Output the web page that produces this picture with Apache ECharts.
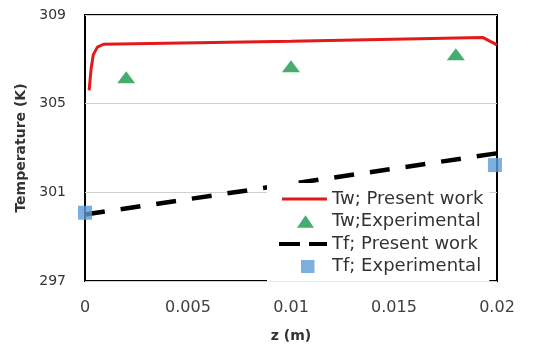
<!DOCTYPE html>
<html>
<head>
<meta charset="utf-8">
<script src="https://cdn.jsdelivr.net/npm/echarts@6/dist/echarts.min.js"></script>
<style>html,body{margin:0;padding:0;background:#fff}#c{width:534px;height:348px}</style>
</head>
<body>
<div id="c"></div>
<script>
// Data
var xTickLabels = ['0', '0.005', '0.01', '0.015', '0.02'];
var yTickLabels = ['297', '301', '305', '309'];

var twPresentZ = [0.0002, 0.0003, 0.0004, 0.0006, 0.0009, 0.01, 0.0193, 0.02];
var twPresentT = [305.6, 306.6, 307.2, 307.55, 307.68, 307.82, 307.99, 307.65];

var twExpZ = [0.002, 0.01, 0.018];
var twExpT = [306.19, 306.69, 307.23];

var tfPresentZ = [0, 0.02];
var tfPresentT = [300.0, 302.76];

var tfExpZ = [0, 0.0199];
var tfExpT = [300.08, 302.23];

var seriesNames = ['Tw; Present work', 'Tw;Experimental', 'Tf; Present work', 'Tf; Experimental'];

function pairs(xs, ys) { return xs.map(function (x, i) { return [x, ys[i]]; }); }

var FONT = 'DejaVu Sans';
var RED = '#e3191c', GREEN = '#17984a', BLUE = '#5b9bd5';
var ANCH = 'M0,0L0,0M48,14L48,14';
var icons = [
  'path://' + ANCH + 'M3,5.5L48,5.5L48,8.5L3,8.5Z',
  'path://' + ANCH + 'M18,13.3L26.5,0.7L35,13.3Z',
  'path://' + ANCH + 'M0,5L21,5L21,9L0,9ZM30,5L48,5L48,9L30,9Z',
  'path://' + ANCH + 'M22,0.5L35.5,0.5L35.5,13.5L22,13.5Z'
];

var chart = echarts.init(document.getElementById('c'), null, {renderer: 'canvas'});
chart.setOption({
  animation: false,
  backgroundColor: '#fff',
  textStyle: {fontFamily: FONT},
  grid: {left: 85, right: 37, top: 15, bottom: 67, show: true, borderColor: '#000', borderWidth: 2, backgroundColor: 'transparent'},
  xAxis: {
    type: 'value', min: 0, max: 0.02, interval: 0.005,
    name: 'z (m)', nameLocation: 'middle', nameGap: 48,
    nameTextStyle: {fontFamily: FONT, fontWeight: 'bold', fontSize: 14, color: '#333'},
    axisLine: {show: false}, axisTick: {show: false}, splitLine: {show: false},
    axisLabel: {margin: 19, fontFamily: FONT, fontSize: 16, color: '#404040',
      formatter: function (v) { return xTickLabels[Math.round(v / 0.005)]; }}
  },
  yAxis: {
    type: 'value', min: 297, max: 309, interval: 4,
    name: 'Temperature (K)', nameLocation: 'middle', nameGap: 37,
    nameTextStyle: {fontFamily: FONT, fontWeight: 'bold', fontSize: 14, color: '#333'},
    axisLine: {show: false}, axisTick: {show: false},
    splitLine: {show: true, lineStyle: {color: '#d0d0d0', width: 1}},
    axisLabel: {margin: 19, fontFamily: FONT, fontSize: 14, color: '#333',
      formatter: function (v) { return yTickLabels[Math.round((v - 297) / 4)]; }}
  },
  legend: {
    orient: 'vertical', left: 267, top: 183,
    backgroundColor: '#fff', padding: [7, 6, 6, 12],
    itemWidth: 48, itemHeight: 14, itemGap: 4.5,
    itemStyle: {borderWidth: 0},
    textStyle: {fontFamily: FONT, fontSize: 18, lineHeight: 14, color: '#333'},
    data: seriesNames.map(function (n, i) { return {name: n, icon: icons[i]}; })
  },
  series: [
    {name: seriesNames[0], type: 'line', data: pairs(twPresentZ, twPresentT), symbol: 'none',
      lineStyle: {color: RED, width: 3}, itemStyle: {color: RED}, z: 3},
    {name: seriesNames[1], type: 'scatter', data: pairs(twExpZ, twExpT), symbol: 'triangle', symbolSize: [18, 12],
      itemStyle: {color: GREEN}, z: 4},
    {name: seriesNames[2], type: 'line', data: pairs(tfPresentZ, tfPresentT), symbol: 'none',
      lineStyle: {color: '#000', width: 4.5, type: [20, 16]}, itemStyle: {color: '#000'}, z: 3},
    {name: seriesNames[3], type: 'scatter', data: pairs(tfExpZ, tfExpT), symbol: 'rect', symbolSize: 14,
      itemStyle: {color: BLUE}, clip: false, z: 5}
  ]
});
</script>
</body>
</html>
